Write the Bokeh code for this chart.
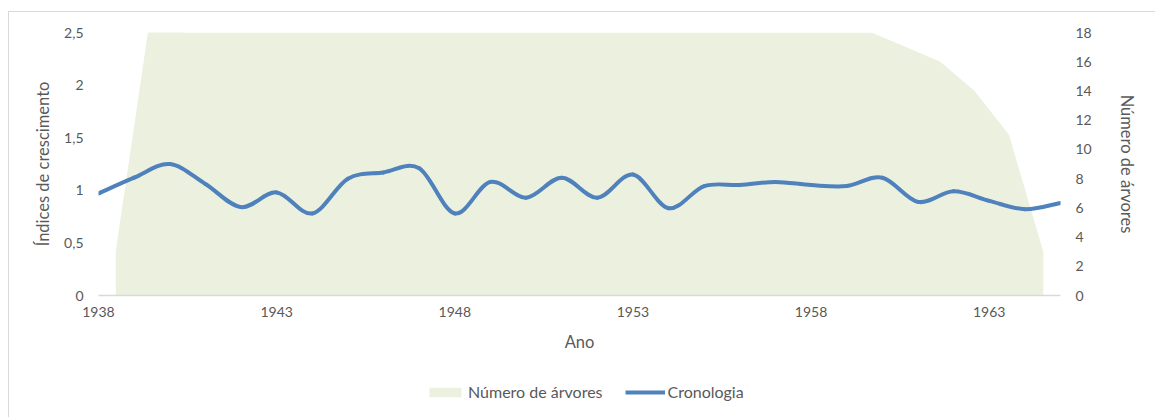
from bokeh.plotting import figure
from bokeh.layouts import column
from bokeh.models import (Range1d, LinearAxis, FixedTicker, Legend, LegendItem)
from bokeh.embed import file_html
from bokeh.resources import INLINE

# ---- data ----
years = list(range(1938, 1966))
cronologia = [0.97, 1.12, 1.25, 1.06, 0.84, 0.98, 0.78, 1.11, 1.17, 1.21,
              0.78, 1.08, 0.93, 1.12, 0.93, 1.15, 0.83, 1.04, 1.05, 1.08,
              1.05, 1.04, 1.12, 0.89, 0.99, 0.90, 0.82, 0.88]
num_arvores = [3, 19, 18, 18, 18, 18, 18, 18, 18, 18,
               18, 18, 18, 18, 18, 18, 18, 18, 18, 18,
               18, 18, 18, 17, 16, 14, 11, 3]
x_ticks = [1938, 1943, 1948, 1953, 1958, 1963]
left_ticks = [0, 0.5, 1, 1.5, 2, 2.5]
left_labels = ["0", "0,5", "1", "1,5", "2", "2,5"]
right_ticks = [0, 2, 4, 6, 8, 10, 12, 14, 16, 18]

FONT = "Lato"
TXT = "#595959"
AREA = "#ebf1de"
LINE = "#4f81bd"
LW = 4
W = 1146

p = figure(width=W, height=343, output_backend="svg", toolbar_location=None,
           x_range=Range1d(1938, 1965), y_range=Range1d(0, 2.5),
           min_border_left=89, min_border_right=95, min_border_top=20,
           min_border_bottom=60, outline_line_color=None,
           x_axis_location=None, y_axis_location=None)
p.extra_x_ranges = {"cat": Range1d(1937.5, 1965.5)}
p.extra_y_ranges = {"n": Range1d(0, 18)}
p.xgrid.visible = False
p.ygrid.visible = False

p.varea(x=years, y1=[0] * len(years), y2=num_arvores, fill_color=AREA,
        x_range_name="cat", y_range_name="n")

# smoothed line (Bezier segments through the data points)
n = len(years)
x0, y0, x1, y1, cx0, cy0, cx1, cy1 = [], [], [], [], [], [], [], []
for i in range(n - 1):
    im1 = max(i - 1, 0)
    ip2 = min(i + 2, n - 1)
    x0.append(years[i]); y0.append(cronologia[i])
    x1.append(years[i + 1]); y1.append(cronologia[i + 1])
    cx0.append(years[i] + (years[i + 1] - years[im1]) / 6)
    cy0.append(cronologia[i] + (cronologia[i + 1] - cronologia[im1]) / 6)
    cx1.append(years[i + 1] - (years[ip2] - years[i]) / 6)
    cy1.append(cronologia[i + 1] - (cronologia[ip2] - cronologia[i]) / 6)
p.bezier(x0=x0, y0=y0, x1=x1, y1=y1, cx0=cx0, cy0=cy0, cx1=cx1, cy1=cy1,
         line_color=LINE, line_width=LW, line_cap="round")

def style(ax):
    ax.major_tick_line_color = None
    ax.minor_tick_line_color = None
    ax.major_tick_out = 0
    ax.major_tick_in = 0
    ax.major_label_text_font = FONT
    ax.major_label_text_font_size = "14px"
    ax.major_label_text_color = TXT
    ax.axis_label_text_font = FONT
    ax.axis_label_text_font_size = "16.5px"
    ax.axis_label_text_color = TXT
    ax.axis_label_text_font_style = "normal"

xa = LinearAxis(ticker=FixedTicker(ticks=x_ticks), axis_label="Ano")
style(xa)
xa.axis_line_color = "#d9d9d9"
xa.axis_line_width = 1.5
xa.major_label_standoff = 11
xa.axis_label_standoff = 12
p.add_layout(xa, "below")

ya = LinearAxis(ticker=FixedTicker(ticks=left_ticks), axis_label="Índices de crescimento",
                major_label_overrides={t: l for t, l in zip(left_ticks, left_labels)})
style(ya)
ya.axis_line_color = None
ya.major_label_standoff = 15
ya.axis_label_standoff = 8
p.add_layout(ya, "left")

ra = LinearAxis(ticker=FixedTicker(ticks=right_ticks), y_range_name="n",
                axis_label="Número de árvores")
style(ra)
ra.axis_line_color = None
ra.major_label_standoff = 15
ra.axis_label_standoff = 22
p.add_layout(ra, "right")

# legend strip below the chart (series drawn out of view, only for the legend keys)
pl = figure(width=W, height=62, output_backend="svg", toolbar_location=None,
            x_range=Range1d(0, 1), y_range=Range1d(0, 1),
            min_border_left=0, min_border_right=0, min_border_top=0,
            min_border_bottom=0, outline_line_color=None,
            x_axis_location=None, y_axis_location=None)
pl.xgrid.visible = False
pl.ygrid.visible = False
la = pl.varea(x=years, y1=[0] * len(years), y2=num_arvores, fill_color=AREA)
ll = pl.line(x=years, y=cronologia, line_color=LINE, line_width=LW)
legend = Legend(items=[LegendItem(label="Número de árvores", renderers=[la]),
                       LegendItem(label="Cronologia", renderers=[ll])],
                orientation="horizontal", location=(327, 16),
                label_text_font=FONT, label_text_font_size="16px",
                label_text_color=TXT, border_line_color=None,
                background_fill_alpha=0,
                glyph_width=40, glyph_height=12, spacing=22,
                label_standoff=3, margin=0, padding=0)
pl.add_layout(legend, "center")

layout = column(p, pl, spacing=0)
layout.styles = {"border-left": "1px solid #d9d9d9", "border-top": "1px solid #d9d9d9",
                 "margin-left": "8px", "margin-top": "11px"}

open("out.html", "w").write(file_html(layout, INLINE))
